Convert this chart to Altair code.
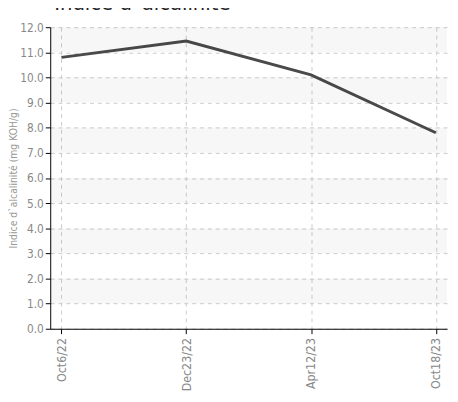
import altair as alt
import pandas as pd

dates = ["Oct6/22", "Dec23/22", "Apr12/23", "Oct18/23"]
values = [10.8, 11.45, 10.1, 7.8]
band_low = [1, 3, 5, 7, 9, 11]
band_high = [2, 4, 6, 8, 10, 12]
y_ticks = [0, 1, 2, 3, 4, 5, 6, 7, 8, 9, 10, 11, 12]

df = pd.DataFrame({"date": dates, "value": values})
bands = pd.DataFrame({"lo": band_low, "hi": band_high})

FONT = "DejaVu Sans Condensed"

xscale = alt.Scale(type="point", domain=dates, padding=0.09)
yscale = alt.Scale(domain=[0, 12], nice=False)

yaxis = alt.Axis(title="Indice d`alcalinité (mg KOH/g)", titleFontSize=10.5,
                 titleColor="#999999", titleFont=FONT, titleFontWeight="normal",
                 titlePadding=1,
                 values=y_ticks, tickCount=20, format=".1f", labelOverlap=False,
                 labelFontSize=12, labelColor="#888888", labelFont=FONT,
                 labelPadding=2,
                 domainColor="#000000", tickColor="#000000", tickSize=5,
                 grid=True, gridColor="#cccccc", gridDash=[4, 4])

line = alt.Chart(df).mark_line(color="#4a4a4a", strokeWidth=3).encode(
    x=alt.X("date:N", scale=xscale, sort=dates,
            axis=alt.Axis(title=None, labelAngle=-90, labelFontSize=12.5, labelColor="#888888",
                          labelFont=FONT, domainColor="#000000", tickColor="#000000",
                          tickSize=5, labelPadding=4,
                          grid=True, gridColor="#cccccc", gridDash=[4, 4])),
    y=alt.Y("value:Q", scale=yscale, axis=yaxis),
)

band_layer = alt.Chart(bands).mark_rect(color="#000000", opacity=0.03).encode(
    y=alt.Y("lo:Q", scale=yscale),
    y2="hi:Q",
)

chart = alt.layer(line, band_layer).properties(
    width=404,
    height=307,
    autosize=alt.AutoSizeParams(type="none"),
    padding={"left": 43, "top": 16, "right": 3, "bottom": 70},
    title=alt.TitleParams("Indice d`alcalinité", anchor="start", frame="group",
                          fontSize=20, fontWeight="normal", color="#222222",
                          font="DejaVu Sans", dx=4, offset=8),
).configure_view(stroke=None)

chart.save("out.html", embed_options={"renderer": "svg", "actions": False})
